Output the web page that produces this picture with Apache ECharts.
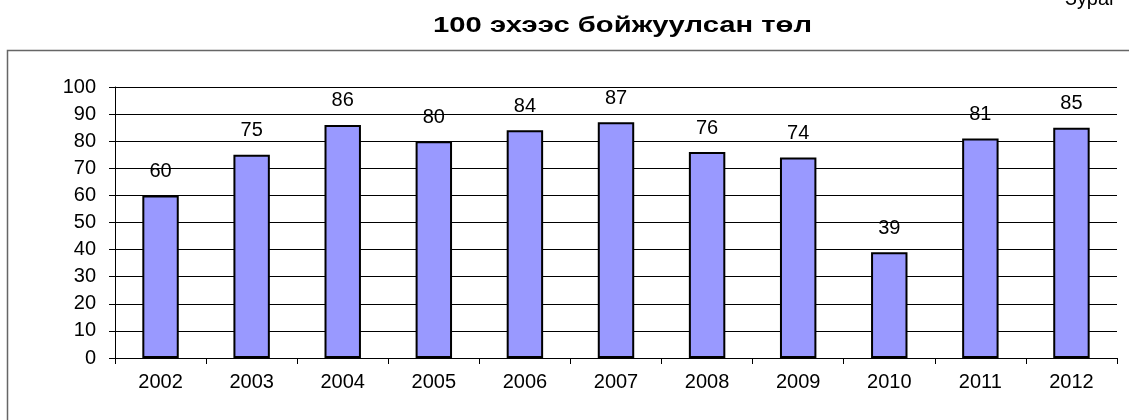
<!DOCTYPE html>
<html><head><meta charset="utf-8">
<script src="https://cdn.jsdelivr.net/npm/echarts@6/dist/echarts.min.js"></script>
<style>html,body{margin:0;padding:0;background:#fff}#c{width:1129px;height:420px}</style>
</head><body><div id="c"></div>
<script>
var years = ['2002','2003','2004','2005','2006','2007','2008','2009','2010','2011','2012'];
var values = [60,75,86,80,84,87,76,74,39,81,85];
var titleText = '100 эхээс бойжуулсан төл';
var cornerText = 'Зураг';

var titleFont = 'bold 22px "Liberation Sans"';
var cv = document.createElement('canvas').getContext('2d');
cv.font = titleFont;
var titleScale = 379 / cv.measureText(titleText).width;

var chart = echarts.init(document.getElementById('c'));
chart.setOption({
  animation:false,
  backgroundColor:'#fff',
  graphic:[
    {type:'rect',shape:{x:7.5,y:50.5,width:1130,height:380},style:{fill:'none',stroke:'#666',lineWidth:1.5},silent:true},
    {type:'text',x:433,y:37,scaleX:titleScale,style:{text:titleText,font:titleFont,fill:'#000',textAlign:'left',verticalAlign:'bottom'}},
    {type:'text',x:1065,y:9,style:{text:cornerText,font:'20px "Liberation Sans"',fill:'#000',textAlign:'left',verticalAlign:'bottom'}}
  ],
  grid:{left:115,right:12,top:87,bottom:62,containLabel:false},
  xAxis:{type:'category',data:years,
    axisLine:{lineStyle:{color:'#000',width:1}},
    axisTick:{show:true,alignWithLabel:false,length:6,lineStyle:{color:'#000'}},
    axisLabel:{color:'#000',fontSize:20,fontFamily:'Liberation Sans',margin:14}},
  yAxis:{type:'value',min:0,max:100,interval:10,
    axisLine:{show:true,lineStyle:{color:'#000',width:1}},
    axisTick:{show:true,length:6,lineStyle:{color:'#000'}},
    splitLine:{lineStyle:{color:'#000',width:1}},
    axisLabel:{color:'#000',fontSize:20,fontFamily:'Liberation Sans',margin:19}},
  series:[{type:'bar',data:values,barWidth:'40%',
    itemStyle:{color:'#9999FF',borderColor:'#000',borderWidth:2},
    label:{show:true,position:'top',distance:14,color:'#000',fontSize:20,fontFamily:'Liberation Sans'}}]
});
</script></body></html>
